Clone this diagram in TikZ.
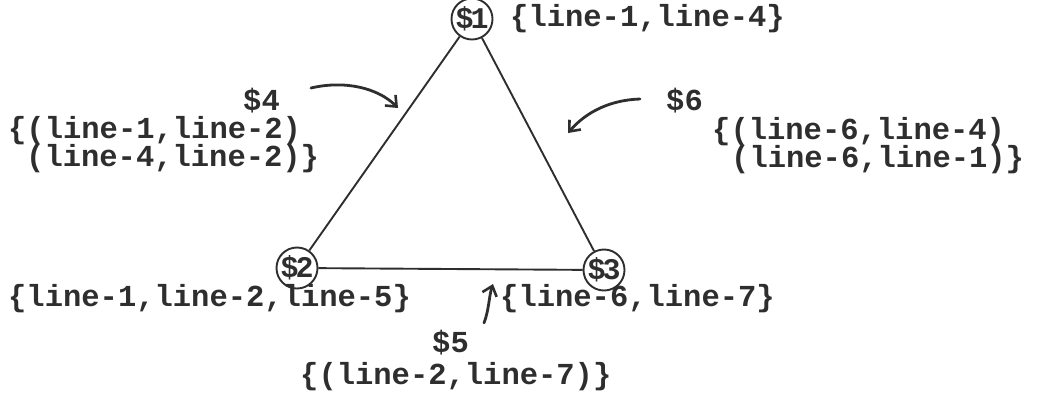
\documentclass[tikz,border=0pt]{standalone}
\usepackage{fontspec}
\setmonofont{Liberation Mono}
\usetikzlibrary{arrows.meta}
\definecolor{ink}{HTML}{2E2E2E}
\begin{document}
\begin{tikzpicture}[x=1pt,y=-1pt,
  txt/.style={anchor=base west,inner sep=0pt,text=ink,font=\ttfamily\bfseries\fontsize{30.5}{27}\selectfont},
  site/.style={circle,draw=ink,line width=1.9pt,minimum size=41pt,inner sep=0pt,text=ink,font=\ttfamily\bfseries\fontsize{30}{27}\selectfont},
  edge/.style={draw=ink,line width=1.9pt},
  pointer/.style={draw=ink,line width=2.8pt,line cap=round,-{Straight Barb[length=9pt,width=15pt,line width=2.6pt]}}]
\useasboundingbox (0,0) rectangle (1040,408);
% sites
\node[site] (s1) at (472,19) {\$\kern-3pt1};
\node[site] (s2) at (297,268) {\$\kern-3pt2};
\node[site] (s3) at (604,270) {\$\kern-3pt3};
\draw[edge] (s1) -- (s2);
\draw[edge] (s1) -- (s3);
\draw[edge] (s2) -- (s3);
% labels
\node[txt] (l1) at (510,26) {\{line-1,line-4\}};
\node[txt] (l4) at (243,110) {\$4};
\node[txt] (l4a) at (8,138) {\{(line-1,line-2)};
\node[txt] (l4b) at (26,166) {(line-4,line-2)\}};
\node[txt] (l6) at (666,110) {\$6};
\node[txt] (l6a) at (712,139) {\{(line-6,line-4)};
\node[txt] (l6b) at (731,167) {(line-6,line-1)\}};
\node[txt] (l2) at (8,306) {\{line-1,line-2,line-5\}};
\node[txt] (l3) at (500,306) {\{line-6,line-7\}};
\node[txt] (l5) at (432,352) {\$5};
\node[txt] (l5a) at (300,384) {\{(line-2,line-7)\}};
% pointers
\coordinate (p4s) at (311,88);
\coordinate (p4e) at (398,108);
\coordinate (p6s) at (640,99);
\coordinate (p6e) at (568,133);
\coordinate (p5s) at (484,323);
\coordinate (p5e) at (493,284);
\draw[pointer] (p4s) .. controls (345,80) and (378,88) .. (p4e);
\draw[pointer] (p6s) .. controls (610,100) and (586,112) .. (p6e);
\draw[pointer] (p5s) .. controls (489,310) and (489,296) .. (p5e);
\end{tikzpicture}
\end{document}
